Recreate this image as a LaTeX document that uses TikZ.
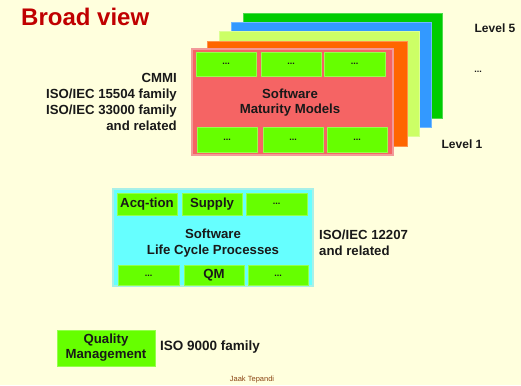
\documentclass[tikz,border=0pt]{standalone}
\usepackage{fontspec}
\setmainfont{Liberation Sans}
\definecolor{bg}{HTML}{FFFFDD}
\definecolor{titlered}{HTML}{C00000}
\definecolor{salmon}{HTML}{F56464}
\definecolor{salmonedge}{HTML}{F29A9A}
\definecolor{orangel}{HTML}{FF6600}
\definecolor{limel}{HTML}{CCFF66}
\definecolor{bluel}{HTML}{3399FF}
\definecolor{greenl}{HTML}{00CC00}
\definecolor{cellg}{HTML}{66FF00}
\definecolor{cyanl}{HTML}{66FFFF}
\definecolor{cyanedge}{HTML}{A8F0E8}
\definecolor{authorc}{HTML}{8B4513}
\begin{document}
\begin{tikzpicture}[x=1pt,y=-1pt,
  txt/.style={font=\fontsize{13.2}{15.8}\selectfont\bfseries, text=black!90, inner sep=0pt},
  layer/.style={draw=#1!70!white, line width=0.8pt, fill=#1, inner sep=0pt},
  cell/.style={fill=cellg, draw=cellg!70!white, line width=0.5pt, inner sep=0pt,
    text=black!90, font=\fontsize{13.2}{15}\selectfont\bfseries},
  dots/.style={cell, font=\fontsize{9}{10}\selectfont\bfseries}
]
\fill[bg] (0,0) rectangle (521,385);
\useasboundingbox (0,0) rectangle (521,385);

% title
\node[anchor=west, inner sep=0pt, text=titlered, font=\fontsize{24}{28}\selectfont\bfseries] (title) at (21,17) {Broad view};

% maturity levels stack
\node[layer=greenl, minimum width=199pt, minimum height=105pt] (L5) at (342.5,65.5) {};
\node[layer=bluel, minimum width=200pt, minimum height=105pt] (L4) at (331,74.5) {};
\node[layer=limel, minimum width=200pt, minimum height=105pt] (L3) at (319,84) {};
\node[layer=orangel, minimum width=200pt, minimum height=105pt] (L2) at (307,93.5) {};
\node[fill=salmon, draw=salmonedge, line width=1.2pt, minimum width=201pt, minimum height=106pt, inner sep=0pt] (L1) at (292.5,102) {};

\node[dots, minimum width=60pt, minimum height=24pt] (mt1) at (226,64) {...};
\node[dots, minimum width=60pt, minimum height=24pt] (mt2) at (291,64) {...};
\node[dots, minimum width=61pt, minimum height=24pt] (mt3) at (354.5,64) {...};
\node[dots, minimum width=60pt, minimum height=25pt] (mb1) at (227,139.5) {...};
\node[dots, minimum width=60pt, minimum height=25pt] (mb2) at (293,139.5) {...};
\node[dots, minimum width=60pt, minimum height=25pt] (mb3) at (357,139.5) {...};
\node[txt, align=center] (smm) at (290,102.5) {Software\\Maturity Models};

\node[txt, anchor=east, align=right] (cmmi) at (177,102) {CMMI\\ISO/IEC 15504 family\\ISO/IEC 33000 family\\and related};

\node[txt, font=\fontsize{12}{14}\selectfont\bfseries] (lv5) at (495,28) {Level 5};
\node[txt, font=\fontsize{9}{10}\selectfont\bfseries] (lvdots) at (478,72) {...};
\node[txt, font=\fontsize{12}{14}\selectfont\bfseries] (lv1) at (462,144) {Level 1};

% life cycle processes
\node[fill=cyanl, draw=cyanedge, line width=1.2pt, minimum width=200pt, minimum height=97pt, inner sep=0pt] (slcp) at (213,237.5) {};
\node[cell, minimum width=60pt, minimum height=22pt] (acq) at (147,204) {Acq-tion};
\node[cell, minimum width=60pt, minimum height=22pt] (sup) at (212,204) {Supply};
\node[dots, minimum width=61pt, minimum height=22pt] (pt3) at (276.5,204) {...};
\node[dots, minimum width=61pt, minimum height=20pt] (pb1) at (148.5,275.5) {...};
\node[cell, minimum width=60pt, minimum height=20pt] (qm) at (214,275.5) {QM};
\node[dots, minimum width=60pt, minimum height=20pt] (pb3) at (278,275.5) {...};
\node[txt, align=center] (slcptxt) at (213,243) {Software\\Life Cycle Processes};
\node[txt, anchor=west, align=left] (iso12207) at (319,243) {ISO/IEC 12207\\and related};

% quality management
\node[cell, minimum width=98pt, minimum height=36pt, align=center, font=\fontsize{13.2}{15}\selectfont\bfseries] (qmbox) at (106,348) {Quality\\Management};
\node[txt, font=\fontsize{13.5}{16}\selectfont\bfseries, anchor=west] (iso9000) at (160,347) {ISO 9000 family};

\node[inner sep=0pt, text=authorc, font=\fontsize{7.5}{9}\selectfont] (author) at (252,380) {Jaak Tepandi};
\end{tikzpicture}
\end{document}
